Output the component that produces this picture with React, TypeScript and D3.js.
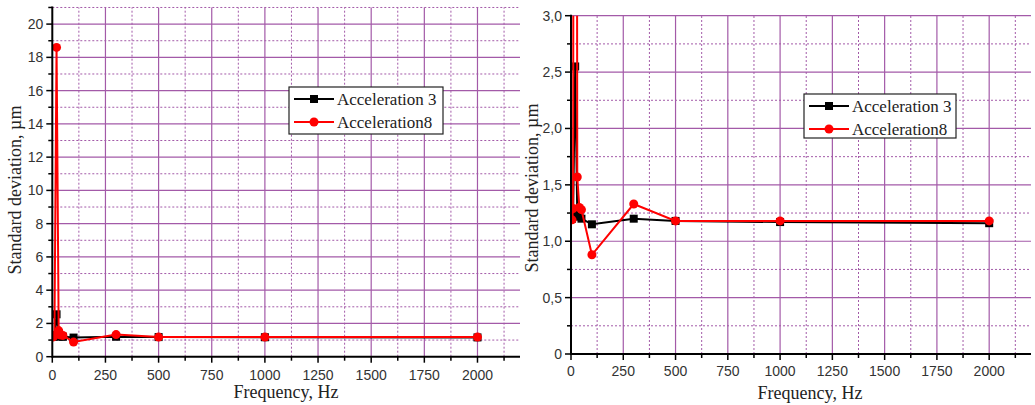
import React from "react";
import * as d3 from "d3";

const freqs3 = [5, 10, 20, 30, 40, 50, 100, 300, 500, 1000, 2000];
const accel3 = [1.2, 1.25, 2.55, 1.22, 1.22, 1.2, 1.15, 1.2, 1.18, 1.17, 1.16];
const freqs8 = [5, 10, 20, 30, 40, 50, 100, 300, 500, 1000, 2000];
const accel8 = [1.19, 1.29, 18.6, 1.57, 1.3, 1.28, 0.88, 1.33, 1.18, 1.18, 1.18];
const xTicks = [0, 250, 500, 750, 1000, 1250, 1500, 1750, 2000];
const leftYTicks = [0, 2, 4, 6, 8, 10, 12, 14, 16, 18, 20];
const rightYTicks = [0, 0.5, 1, 1.5, 2, 2.5, 3];
const rightYLabels = ["0", "0,5", "1,0", "1,5", "2,0", "2,5", "3,0"];
const seriesNames = ["Acceleration 3", "Acceleration8"];

const GRID = "#a35aa8";

type PanelProps = {
  id: string;
  x0: number; x1: number; y0: number; y1: number;
  yMax: number; yMajor: number[]; yLabels: string[]; yMinorStep: number;
  legend: { x: number; y: number; w: number; h: number };
  yTitleX: number; yTitleY: number; xTitleX: number; xTitleY: number;
  tickLabelDy: number;
};

function Panel(p: PanelProps) {
  const x = d3.scaleLinear().domain([0, 2200]).range([p.x0, p.x1]);
  const y = d3.scaleLinear().domain([0, p.yMax]).range([p.y0, p.y1]);
  const minorX = d3.range(125, 2200, 250);
  const minorY = d3.range(p.yMinorStep, p.yMax + 1e-9, p.yMinorStep * 2);
  const line = d3.line<[number, number]>().x((d) => x(d[0])).y((d) => y(d[1]));
  const d3pts: [number, number][] = freqs3.map((f, i) => [f, accel3[i]]);
  const d8pts: [number, number][] = freqs8.map((f, i) => [f, accel8[i]]);
  const clipId = "clip-" + p.id;
  const axisTop = y(p.yMax);
  return (
    <g>
      <defs>
        <clipPath id={clipId}>
          <rect x={p.x0} y={axisTop} width={p.x1 - p.x0 + 2} height={p.y0 - axisTop} />
        </clipPath>
      </defs>
      {minorX.map((v) => (
        <line key={"mx" + v} x1={x(v)} x2={x(v)} y1={p.y0} y2={axisTop} stroke={GRID} strokeWidth={1} strokeDasharray="2,2" />
      ))}
      {minorY.map((v) => (
        <line key={"my" + v} x1={p.x0} x2={p.x1} y1={y(v)} y2={y(v)} stroke={GRID} strokeWidth={1} strokeDasharray="2,2" />
      ))}
      {xTicks.filter((v) => v > 0).map((v) => (
        <line key={"gx" + v} x1={x(v)} x2={x(v)} y1={p.y0} y2={axisTop} stroke={GRID} strokeWidth={1.2} />
      ))}
      {p.yMajor.filter((v) => v > 0).map((v) => (
        <line key={"gy" + v} x1={p.x0} x2={p.x1} y1={y(v)} y2={y(v)} stroke={GRID} strokeWidth={1.2} />
      ))}
      <g clipPath={`url(#${clipId})`}>
        <path d={line(d3pts) || ""} fill="none" stroke="#000" strokeWidth={2} />
        {d3pts.map((d, i) => (
          <rect key={"s" + i} x={x(d[0]) - 4} y={y(d[1]) - 4} width={8} height={8} fill="#000" />
        ))}
        <path d={line(d8pts) || ""} fill="none" stroke="#ff0000" strokeWidth={2} />
        {d8pts.map((d, i) => (
          <circle key={"c" + i} cx={x(d[0])} cy={y(d[1])} r={4.5} fill="#ff0000" />
        ))}
      </g>
      <line x1={p.x0} x2={p.x1} y1={p.y0} y2={p.y0} stroke="#000" strokeWidth={2} />
      <line x1={p.x0} x2={p.x0} y1={p.y0 + 1} y2={axisTop - 1} stroke="#000" strokeWidth={2} />
      {xTicks.map((v) => (
        <line key={"tx" + v} x1={x(v)} x2={x(v)} y1={p.y0} y2={p.y0 + 6} stroke="#000" strokeWidth={1.5} />
      ))}
      {minorX.map((v) => (
        <line key={"tmx" + v} x1={x(v)} x2={x(v)} y1={p.y0} y2={p.y0 + 4} stroke="#000" strokeWidth={1.5} />
      ))}
      {p.yMajor.map((v) => (
        <line key={"ty" + v} x1={p.x0 - 6} x2={p.x0} y1={y(v)} y2={y(v)} stroke="#000" strokeWidth={1.5} />
      ))}
      {minorY.map((v) => (
        <line key={"tmy" + v} x1={p.x0 - 4} x2={p.x0} y1={y(v)} y2={y(v)} stroke="#000" strokeWidth={1.5} />
      ))}
      {xTicks.map((v) => (
        <text key={"lx" + v} x={x(v)} y={p.y0 + p.tickLabelDy} textAnchor="middle" fontFamily="Liberation Sans, Arial" fontSize={14} fill="#333">{v}</text>
      ))}
      {p.yMajor.map((v, i) => (
        <text key={"ly" + v} x={p.x0 - 9} y={y(v) + 5} textAnchor="end" fontFamily="Liberation Sans, Arial" fontSize={14} fill="#333">{p.yLabels[i]}</text>
      ))}
      <text x={p.xTitleX} y={p.xTitleY} textAnchor="middle" fontFamily="Liberation Serif, Times New Roman" fontSize={18} fill="#222">Frequency, Hz</text>
      <text transform={`translate(${p.yTitleX},${p.yTitleY}) rotate(-90)`} textAnchor="middle" fontFamily="Liberation Serif, Times New Roman" fontSize={18} fill="#222">Standard deviation, µm</text>
      <rect x={p.legend.x} y={p.legend.y} width={p.legend.w} height={p.legend.h} fill="#fff" stroke="#222" strokeWidth={1.2} />
      {seriesNames.map((name, i) => {
        const cy = p.legend.y + 12 + i * 23;
        const lx = p.legend.x + 5;
        const color = i === 0 ? "#000" : "#ff0000";
        return (
          <g key={name}>
            <line x1={lx} x2={lx + 40} y1={cy} y2={cy} stroke={color} strokeWidth={2} />
            {i === 0 ? (
              <rect x={lx + 16} y={cy - 4} width={8} height={8} fill="#000" />
            ) : (
              <circle cx={lx + 20} cy={cy} r={4.5} fill="#ff0000" />
            )}
            <text x={lx + 43} y={cy + 6} fontFamily="Liberation Serif, Times New Roman" fontSize={17} fill="#222">{name}</text>
          </g>
        );
      })}
    </g>
  );
}

export default function App() {
  return (
    <svg width={1035} height={405} style={{ position: "absolute", left: 0, top: 0, background: "#fff" }}>
      <Panel
        id="left"
        x0={52.3} x1={520} y0={356.7} y1={356.7 - 21 * 16.63}
        yMax={21}
        yMajor={leftYTicks}
        yLabels={leftYTicks.map(String)}
        yMinorStep={1}
        legend={{ x: 289, y: 87, w: 154, h: 47 }}
        yTitleX={21} yTitleY={190}
        xTitleX={286} xTitleY={398}
        tickLabelDy={23}
      />
      <Panel
        id="right"
        x0={571} x1={1031} y0={354} y1={15.7}
        yMax={3}
        yMajor={rightYTicks}
        yLabels={rightYLabels}
        yMinorStep={0.25}
        legend={{ x: 804, y: 94, w: 152, h: 44 }}
        yTitleX={538} yTitleY={188}
        xTitleX={810} xTitleY={399}
        tickLabelDy={22}
      />
    </svg>
  );
}
